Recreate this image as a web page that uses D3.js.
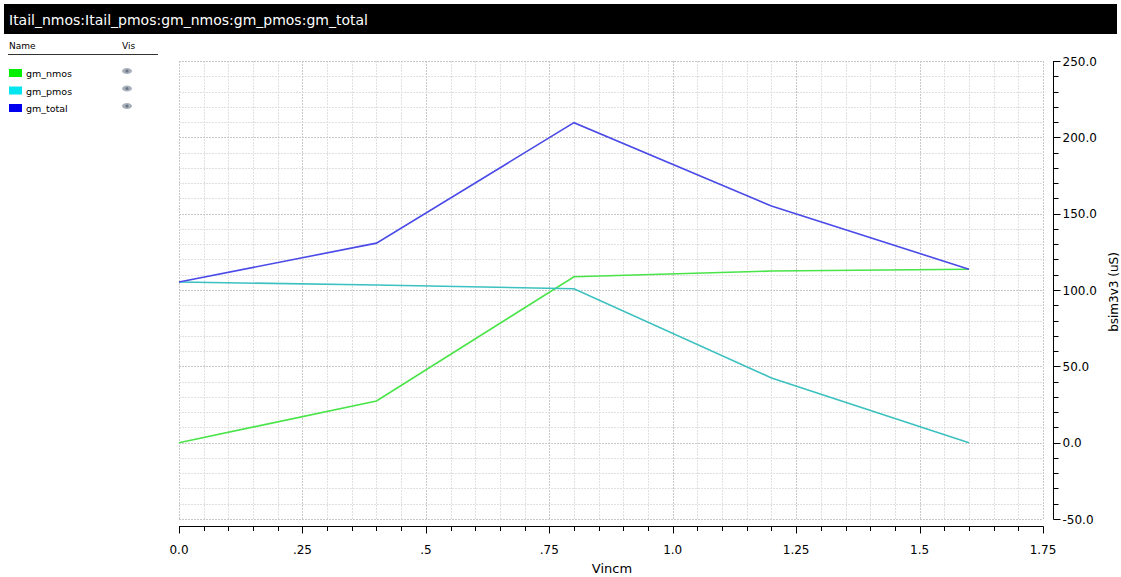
<!DOCTYPE html>
<html><head><meta charset="utf-8">
<script src="https://cdn.jsdelivr.net/npm/d3@7"></script>
<style>
body{margin:0;background:#fff;}
svg{display:block;font-family:"DejaVu Sans",sans-serif;}
</style></head>
<body><svg id="c" width="1121" height="577"></svg>
<script>
const title = "Itail_nmos:Itail_pmos:gm_nmos:gm_pmos:gm_total";
const vincm = [0.0, 0.4, 0.8, 1.2, 1.6];
const gmNmos = [0.0, 27.3, 108.7, 112.4, 113.6];
const gmPmos = [105.2, 103.3, 100.8, 42.4, 0.0];
const gmTotal = [105.2, 130.7, 209.6, 155.0, 113.6];
const seriesNames = ["gm_nmos", "gm_pmos", "gm_total"];
const legendColors = ["#00ee00", "#00e5ee", "#0000ee"];
const lineColors = ["#48e448", "#3cc0c0", "#4a4ae8"];
const xTicks = [0, 0.25, 0.5, 0.75, 1.0, 1.25, 1.5, 1.75];
const xTickLabels = ["0.0", ".25", ".5", ".75", "1.0", "1.25", "1.5", "1.75"];
const yTicks = [-50, 0, 50, 100, 150, 200, 250];
const yTickLabels = ["-50.0", "0.0", "50.0", "100.0", "150.0", "200.0", "250.0"];
const xLabel = "Vincm";
const yLabel = "bsim3v3 (uS)";

const svg = d3.select("#c");
const L = 179, R = 1043, T = 61, B = 519;
const x = d3.scaleLinear().domain([0, 1.75]).range([L, R]);
const y = d3.scaleLinear().domain([-50, 250]).range([B, T]);

// title bar
svg.append("rect").attr("x", 4).attr("y", 4).attr("width", 1113).attr("height", 30).attr("fill", "#000");
svg.append("text").attr("x", 9).attr("y", 25).attr("fill", "#fff").attr("font-size", 14).text(title);

// legend header
svg.append("text").attr("x", 9).attr("y", 49).attr("font-size", 9).attr("fill", "#000").text("Name");
svg.append("text").attr("x", 122).attr("y", 49).attr("font-size", 9).attr("fill", "#000").text("Vis");
svg.append("line").attr("x1", 8).attr("x2", 158).attr("y1", 54.5).attr("y2", 54.5).attr("stroke", "#333");
const leg = svg.append("g");
seriesNames.forEach((n, i) => {
  const yy = 69 + i * 17.5;
  leg.append("rect").attr("x", 9).attr("y", yy).attr("width", 13).attr("height", 8).attr("fill", legendColors[i]);
  leg.append("text").attr("x", 26).attr("y", yy + 8).attr("font-size", 9.5).attr("fill", "#000").text(n);
  leg.append("ellipse").attr("cx", 127).attr("cy", yy + 2).attr("rx", 5).attr("ry", 3).attr("fill", "#a8b0bc");
  leg.append("circle").attr("cx", 127).attr("cy", yy + 2).attr("r", 1.6).attr("fill", "#6a7484");
});

// grid
const g = svg.append("g");
d3.range(0, 1.7501, 0.05).forEach(v => {
  const major = Math.abs(v / 0.25 - Math.round(v / 0.25)) < 1e-6;
  g.append("line").attr("x1", Math.round(x(v)) + 0.5).attr("x2", Math.round(x(v)) + 0.5)
    .attr("y1", T).attr("y2", B).attr("stroke", major ? "#c8c8c8" : "#e0e0e0")
    .attr("stroke-dasharray", "2,1");
});
d3.range(-50, 250.01, 10).forEach(v => {
  const major = v % 50 === 0;
  g.append("line").attr("y1", Math.round(y(v)) + 0.5).attr("y2", Math.round(y(v)) + 0.5)
    .attr("x1", L).attr("x2", R).attr("stroke", major ? "#c8c8c8" : "#e0e0e0")
    .attr("stroke-dasharray", "2,1");
});

// x axis
const xa = svg.append("g").attr("transform", "translate(0,526.5)");
xa.append("line").attr("x1", L).attr("x2", R + 0.5).attr("stroke", "#000");
d3.range(0, 1.7501, 0.05).forEach(v => {
  const major = Math.abs(v / 0.25 - Math.round(v / 0.25)) < 1e-6;
  xa.append("line").attr("x1", Math.round(x(v)) + 0.5).attr("x2", Math.round(x(v)) + 0.5)
    .attr("y1", 0).attr("y2", major ? 7 : 4.5).attr("stroke", "#000");
});
xTicks.forEach((v, i) => {
  xa.append("text").attr("x", x(v)).attr("y", 27).attr("text-anchor", "middle")
    .attr("font-size", 12).attr("fill", "#000").text(xTickLabels[i]);
});
svg.append("text").attr("x", 612).attr("y", 573).attr("text-anchor", "middle")
  .attr("font-size", 13).attr("fill", "#000").text(xLabel);

// y axis
const ya = svg.append("g").attr("transform", "translate(1053.5,0)");
ya.append("line").attr("y1", T).attr("y2", B + 0.5).attr("stroke", "#000");
d3.range(-50, 250.01, 10).forEach(v => {
  const major = v % 50 === 0;
  ya.append("line").attr("y1", Math.round(y(v)) + 0.5).attr("y2", Math.round(y(v)) + 0.5)
    .attr("x1", 0).attr("x2", major ? 7 : 5).attr("stroke", "#000");
});
yTicks.forEach((v, i) => {
  ya.append("text").attr("x", 9).attr("y", y(v) + 4.5).attr("font-size", 12)
    .attr("fill", "#000").text(yTickLabels[i]);
});
svg.append("text").attr("transform", "translate(1118,292) rotate(-90)").attr("text-anchor", "middle")
  .attr("font-size", 12).attr("fill", "#000").text(yLabel);

// lines
const series = [gmNmos, gmPmos, gmTotal];
const line = d3.line().x((d, i) => x(vincm[i])).y(d => y(d));
series.forEach((s, i) => {
  svg.append("path").datum(s).attr("d", line).attr("fill", "none")
    .attr("stroke", lineColors[i]).attr("stroke-width", 1.6);
});
</script></body></html>
